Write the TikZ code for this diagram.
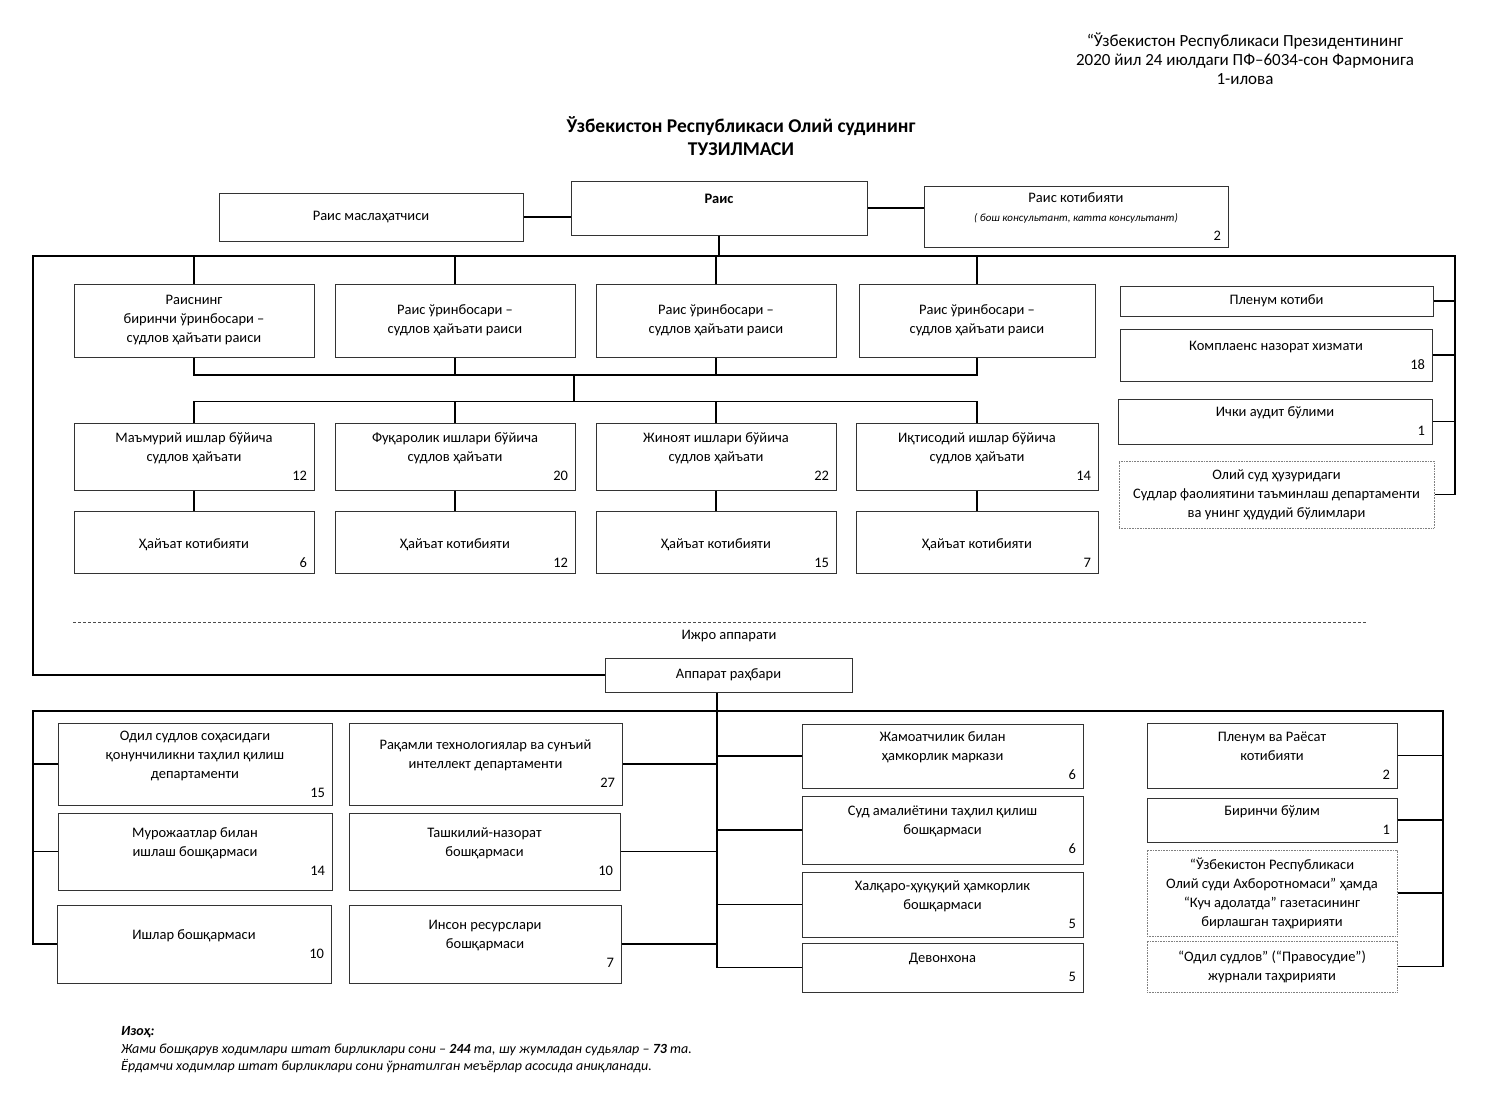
\documentclass[tikz,border=0pt]{standalone}
\usepackage{fontspec}
\setmainfont{Carlito}
\usetikzlibrary{positioning}
\newcommand\shtat[1]{\\\leavevmode\null\hskip 0pt plus 1filll #1}
\tikzset{
  node distance=261pt,
  office/.style 2 args={rectangle, draw=black!80, line width=1pt, align=flush center,
    minimum width=#1, text width=#1-14pt, minimum height=#2,
    inner xsep=7pt, inner ysep=0pt, font=\fontsize{14.5}{19}\selectfont},
  dotoffice/.style 2 args={office={#1}{#2}, draw=black!50, dash pattern=on 0.8pt off 0.8pt},
  wire/.style={line width=1.4pt, black},
}

\begin{document}
\begin{tikzpicture}[x=1pt, y=-1pt]
        \useasboundingbox[fill=white] (0,0) rectangle (1485,1101);

        % heading
        \node[align=center, font=\fontsize{17}{19}\selectfont] (ilova) at (1245,59)
          {“Ўзбекистон Республикаси Президентининг\\2020 йил 24 июлдаги ПФ–6034-сон Фармонига\\1-илова};
        \node[align=center, font=\bfseries\fontsize{19.5}{23}\selectfont] (title) at (741,136)
          {Ўзбекистон Республикаси Олий судининг\\ТУЗИЛМАСИ};

        % chairman
        \node[office={296pt}{54pt}] (rais) at (719,208) {\textbf{Раис}\\\mbox{}};
        \node[office={304pt}{48pt}] (maslahat) at (371,217) {Раис маслаҳатчиси};
        \node[office={304pt}{61pt}] (kotib) at (1076,216.5)
          {Раис котибияти\\{\itshape\fontsize{11}{18}\selectfont ( бош консультант, катта консультант)}\shtat{2}};

        % deputies
        \node[office={240pt}{73pt}] (dep1) at (194,320.5) {Раиснинг\\биринчи ўринбосари –\\судлов ҳайъати раиси};
        \node[office={240pt}{73pt}, right of=dep1] (dep2) {Раис ўринбосари –\\судлов ҳайъати раиси};
        \node[office={240pt}{73pt}, right of=dep2] (dep3) {Раис ўринбосари –\\судлов ҳайъати раиси};
        \node[office={236pt}{73pt}, right of=dep3] (dep4) {Раис ўринбосари –\\судлов ҳайъати раиси};

        % judicial boards
        \node[office={240pt}{67pt}] (hay1) at (194,456.5) {Маъмурий ишлар бўйича\\судлов ҳайъати\shtat{12}};
        \node[office={240pt}{67pt}, right of=hay1] (hay2) {Фуқаролик ишлари бўйича\\судлов ҳайъати\shtat{20}};
        \node[office={240pt}{67pt}, right of=hay2] (hay3) {Жиноят ишлари бўйича\\судлов ҳайъати\shtat{22}};
        \node[office={242pt}{67pt}, right of=hay3] (hay4) {Иқтисодий ишлар бўйича\\судлов ҳайъати\shtat{14}};

        % board secretariats
        \node[office={240pt}{62pt}] (kot1) at (194,542) {\strut\\Ҳайъат котибияти\shtat{6}};
        \node[office={240pt}{62pt}, right of=kot1] (kot2) {\strut\\Ҳайъат котибияти\shtat{12}};
        \node[office={240pt}{62pt}, right of=kot2] (kot3) {\strut\\Ҳайъат котибияти\shtat{15}};
        \node[office={242pt}{62pt}, right of=kot3] (kot4) {\strut\\Ҳайъат котибияти\shtat{7}};

        % services under chairman
        \node[office={313pt}{30pt}] (plenk) at (1276.5,301) {Пленум котиби};
        \node[office={312pt}{52pt}] (compl) at (1276,355) {Комплаенс назорат хизмати\shtat{18}};
        \node[office={314pt}{45pt}] (audit) at (1275,421.5) {Ички аудит бўлими\shtat{1}};
        \node[dotoffice={315pt}{67pt}] (depart) at (1276.5,494.5)
          {Олий суд ҳузуридаги\\Судлар фаолиятини таъминлаш департаменти\\ва унинг ҳудудий бўлимлари};

        % executive apparatus
        \draw[line width=0.8pt, dash pattern=on 3pt off 2pt, black!70] (73,622) -- (1367,622);
        \node[font=\fontsize{14.5}{19}\selectfont] (ijro) at (729,636) {Ижро аппарати};
        \node[office={247pt}{34pt}] (apparat) at (728.5,675) {Аппарат раҳбари};

        \node[office={274pt}{82pt}] (qonun) at (195,764) {Одил судлов соҳасидаги\\қонунчиликни таҳлил қилиш\\департаменти\shtat{15}};
        \node[office={274pt}{77pt}] (muroj) at (195,851.5) {Мурожаатлар билан\\ишлаш бошқармаси\shtat{14}};
        \node[office={274pt}{78pt}] (ishlar) at (194,944) {Ишлар бошқармаси\shtat{10}};
        \node[office={273pt}{82pt}] (raqam) at (485.5,764) {Рақамли технологиялар ва сунъий\\интеллект департаменти\shtat{27}};
        \node[office={271pt}{77pt}] (tashkil) at (484.5,851.5) {Ташкилий-назорат\\бошқармаси\shtat{10}};
        \node[office={272pt}{78pt}] (inson) at (485,944) {Инсон ресурслари\\бошқармаси\shtat{7}};
        \node[office={281pt}{64pt}] (jamoat) at (942.5,756) {Жамоатчилик билан\\ҳамкорлик маркази\shtat{6}};
        \node[office={281pt}{68pt}] (amaliyot) at (942.5,830) {Суд амалиётини таҳлил қилиш\\бошқармаси\shtat{6}};
        \node[office={281pt}{65pt}] (xalqaro) at (942.5,904.5) {Халқаро-ҳуқуқий ҳамкорлик\\бошқармаси\shtat{5}};
        \node[office={281pt}{49pt}] (devon) at (942.5,967.5) {Девонхона\shtat{5}};
        \node[office={250pt}{65pt}] (rayosat) at (1272,755.5) {Пленум ва Раёсат\\котибияти\shtat{2}};
        \node[office={250pt}{44pt}] (birinchi) at (1272,820) {Биринчи бўлим\shtat{1}};
        \node[dotoffice={250pt}{86pt}] (axbor) at (1272,893)
          {“Ўзбекистон Республикаси\\Олий суди Ахборотномаси” ҳамда\\“Куч адолатда” газетасининг\\бирлашган таҳририяти};
        \node[dotoffice={250pt}{51pt}] (jurnal) at (1272,966.5) {“Одил судлов” (“Правосудие”)\\журнали таҳририяти};

        % note
        \node[anchor=west, align=left, inner sep=0pt, font=\itshape\fontsize{14}{17.5}\selectfont] (izoh) at (121,1050)
          {\textbf{Изоҳ:}\\Жами бошқарув ходимлари штат бирликлари сони – \textbf{244} та, шу жумладан судьялар – \textbf{73} та.\\Ёрдамчи ходимлар штат бирликлари сони ўрнатилган меъёрлар асосида аниқланади.};

        % connections, upper part
        \coordinate (busL) at (33,256);
        \coordinate (busR) at (1455,256);
        \coordinate (hub) at (574,375);
        \draw[wire] (maslahat.east) -- (maslahat.east -| rais.west);
        \draw[wire] (rais.east) -- (rais.east -| kotib.west);
        \draw[wire] (rais.south) -- (rais.south |- busL);
        \draw[wire] (apparat.west) -| (busL) -- (busR) |- (depart.east);
        \foreach \nm in {plenk,compl,audit} \draw[wire] (\nm.east) -- (\nm.east -| busR);
        \foreach \nm in {dep1,dep2,dep3,dep4} \draw[wire] (\nm.north) -- (\nm.north |- busL);
        \draw[wire] (dep1.south) -- (dep1.south |- hub) -| (dep4.south);
        \draw[wire] (dep2.south) -- (dep2.south |- hub);
        \draw[wire] (dep3.south) -- (dep3.south |- hub);
        \draw[wire] (hub) -- ++(0,27);
        \draw[wire] (hay1.north) -- ++(0,-21) -| (hay4.north);
        \draw[wire] (hay2.north) -- ++(0,-21);
        \draw[wire] (hay3.north) -- ++(0,-21);
        \foreach \i in {1,...,4} \draw[wire] (hay\i.south) -- (kot\i.north);

        % connections, apparatus
        \coordinate (trunk) at (717,711);
        \coordinate (lowL) at (33,711);
        \coordinate (lowR) at (1443,711);
        \draw[wire] (apparat.south -| trunk) -- (trunk |- devon.west) -- (devon.west);
        \draw[wire] (ishlar.west) -| (lowL) -- (lowR) |- (jurnal.east);
        \foreach \nm in {qonun,muroj} \draw[wire] (\nm.west) -- (\nm.west -| lowL);
        \foreach \nm in {raqam,tashkil,inson} \draw[wire] (\nm.east) -- (\nm.east -| trunk);
        \foreach \nm in {jamoat,amaliyot,xalqaro} \draw[wire] (\nm.west) -- (\nm.west -| trunk);
        \foreach \nm in {rayosat,birinchi,axbor} \draw[wire] (\nm.east) -- (\nm.east -| lowR);
\end{tikzpicture}
\end{document}
